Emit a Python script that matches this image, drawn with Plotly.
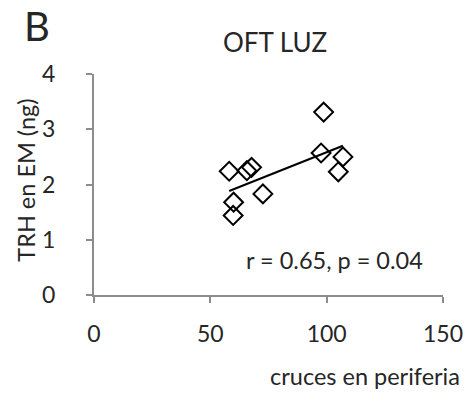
import numpy as np
import plotly.graph_objects as go

# Crossings in the periphery vs TRH in median eminence (OFT, light phase)
cruces = [58.1, 60.0, 59.8, 65.7, 67.7, 72.6, 98.7, 97.6, 107.0, 105.0]
trh = [2.24, 1.68, 1.44, 2.25, 2.31, 1.83, 3.31, 2.57, 2.50, 2.23]

x_ticks = [0, 50, 100, 150]
y_ticks = [0, 1, 2, 3, 4]

FONT = "Lato"
GREY = "#8c8c8c"
TXT = "#262626"

# Linear least-squares trendline over the observed x span
slope, intercept = np.polyfit(cruces, trh, 1)
x_fit = [min(cruces), max(cruces)]
y_fit = [slope * v + intercept for v in x_fit]

fig = go.Figure()
fig.add_trace(go.Scatter(
    x=cruces, y=trh, mode="markers",
    marker=dict(symbol="diamond-open", size=14.5, color="black",
                line=dict(width=2, color="black")),
    showlegend=False, hoverinfo="x+y",
))
fig.add_trace(go.Scatter(
    x=x_fit, y=y_fit, mode="lines",
    line=dict(color="black", width=2),
    showlegend=False, hoverinfo="skip",
))

axis_common = dict(
    showgrid=False, zeroline=False, showline=True, linecolor=GREY,
    linewidth=2, ticks="outside", tickcolor=GREY, tickwidth=2, ticklen=6,
    tickfont=dict(family=FONT, size=23, color=TXT),
)

fig.update_xaxes(range=[0, 150], tickvals=x_ticks, ticklabelstandoff=11,
                 **axis_common)
fig.update_yaxes(range=[0, 4], tickvals=y_ticks, ticklabelstandoff=26,
                 **axis_common)

W, H = 475, 407
ml, mr, mt, mb = 93.5, 30, 74.3, 111.7

fig.update_layout(
    width=W, height=H,
    margin=dict(l=ml, r=mr, t=mt, b=mb),
    paper_bgcolor="white", plot_bgcolor="white",
    font=dict(family=FONT, color=TXT),
    annotations=[
        dict(text="B", x=36, y=26, font=dict(family=FONT, size=40, color=TXT)),
        dict(text="OFT LUZ", x=276, y=42, font=dict(family=FONT, size=26, color=TXT)),
        dict(text="r = 0.65, p = 0.04", x=336, y=260,
             font=dict(family=FONT, size=23.5, color=TXT)),
        dict(text="cruces en periferia", x=366, y=376,
             font=dict(family=FONT, size=23.5, color=TXT)),
        dict(text="TRH en EM (ng)", x=25, y=180, textangle=-90,
             font=dict(family=FONT, size=23.5, color=TXT)),
    ],
)

# Annotation positions above are figure pixels; convert to paper units
pw, ph = W - ml - mr, H - mt - mb
for a in fig.layout.annotations:
    px, py = a.x, a.y
    a.x = (px - ml) / pw
    a.y = 1 - (py - mt) / ph
    a.xanchor = "center"
    a.yanchor = "middle"
    a.xref = "paper"
    a.yref = "paper"
    a.showarrow = False

fig.write_html("out.html")
